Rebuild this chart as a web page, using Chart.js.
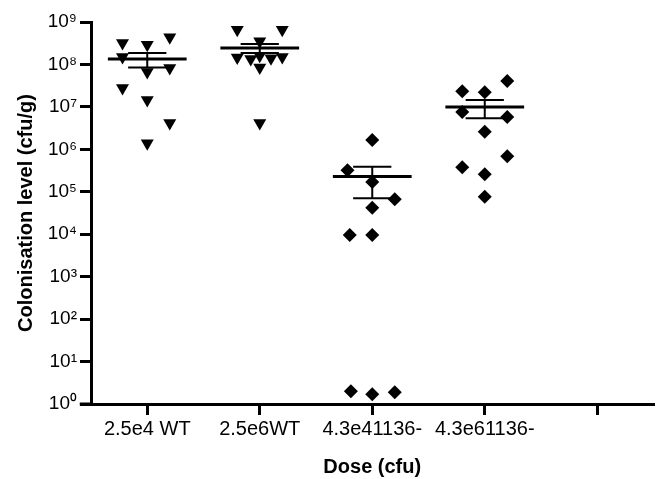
<!DOCTYPE html>
<html>
<head>
<meta charset="utf-8">
<script src="https://cdn.jsdelivr.net/npm/chart.js@4.4.0/dist/chart.umd.min.js"></script>
<style>
  html, body { margin: 0; padding: 0; background: #fff; }
  #wrap { width: 661px; height: 479px; }
</style>
</head>
<body>
<div id="wrap"><canvas id="chart" width="661" height="479"></canvas></div>
<script>
// Dose groups along the x axis (the fifth tick is left empty)
const doseLabels = ['2.5e4 WT', '2.5e6WT', '4.3e41136-', '4.3e61136-', ''];

// Log y axis ticks
const yTickValues = [1, 1e1, 1e2, 1e3, 1e4, 1e5, 1e6, 1e7, 1e8, 1e9];
const yTickLabels = ['10⁰', '10¹', '10²', '10³', '10⁴', '10⁵', '10⁶', '10⁷', '10⁸', '10⁹'];

// Colonisation per animal (cfu/g) and the sideways scatter offset of each point
const wt4Values = [3.2e8, 2.9e8, 4.4e8, 1.5e8, 6.6e7, 8.3e7, 2.8e7, 1.45e7, 4.2e6, 1.4e6];
const wt4Jitter = [-0.22, 0, 0.2, -0.22, 0, 0.2, -0.22, 0, 0.2, 0];

const wt6Values = [6.6e8, 6.6e8, 3.5e8, 1.6e8, 1.45e8, 1.35e8, 1.4e8, 1.5e8, 8.5e7, 4.2e6];
const wt6Jitter = [-0.2, 0.2, 0, 0, -0.2, -0.08, 0.1, 0.2, 0, 0];

const mut4Values = [1.66e6, 3.2e5, 1.7e5, 6.7e4, 4.2e4, 9.6e3, 9.6e3, 2.0, 1.7, 1.9];
const mut4Jitter = [0, -0.22, 0, 0.2, 0, -0.2, 0, -0.19, 0, 0.2];

const mut6Values = [4.1e7, 2.35e7, 2.2e7, 7.6e6, 5.8e6, 2.6e6, 6.9e5, 3.8e5, 2.6e5, 7.6e4];
const mut6Jitter = [0.2, -0.2, 0, -0.2, 0.2, 0, 0.2, -0.2, 0, 0];

// Mean and SEM of each group
const groupMeans = [1.35e8, 2.45e8, 2.3e5, 1.0e7];
const groupSem = [0.5e8, 0.6e8, 1.6e5, 4.6e6];

const FONT = 'Liberation Sans, Arial, Helvetica, sans-serif';

const toPoints = (values, jitter, group) =>
  values.map((v, i) => ({ x: group + jitter[i], y: v }));

const markerSet = (data, style) => ({
  data,
  pointStyle: style,
  pointRotation: style === 'triangle' ? 180 : 0,
  pointRadius: style === 'triangle' ? 7.5 : 7,
  pointHoverRadius: 7,
  backgroundColor: '#000',
  borderColor: '#000',
  borderWidth: 0,
  showLine: false,
});

const lineSet = (data, width) => ({
  data,
  showLine: true,
  spanGaps: false,
  pointRadius: 0,
  pointHoverRadius: 0,
  borderColor: '#000',
  borderWidth: width,
});

// mean bars and SEM whiskers, split by null gaps
const meanData = [];
const semData = [];
groupMeans.forEach((m, i) => {
  const g = i + 1;
  const s = groupSem[i];
  meanData.push({ x: g - 0.35, y: m }, { x: g + 0.35, y: m }, { x: g, y: null });
  semData.push({ x: g, y: m - s }, { x: g, y: m + s }, { x: g, y: null });
  semData.push({ x: g - 0.17, y: m + s }, { x: g + 0.17, y: m + s }, { x: g, y: null });
  semData.push({ x: g - 0.17, y: m - s }, { x: g + 0.17, y: m - s }, { x: g, y: null });
});

// x axis runs a little past the y axis on the left
const axisStub = {
  id: 'axisStub',
  afterDraw(chart) {
    const { ctx, scales: { x }, chartArea } = chart;
    ctx.save();
    ctx.strokeStyle = '#000';
    ctx.lineWidth = 3;
    ctx.beginPath();
    ctx.moveTo(x.getPixelForValue(0.4), chartArea.bottom);
    ctx.lineTo(x.getPixelForValue(0.5) + 1, chartArea.bottom);
    ctx.stroke();
    ctx.restore();
  },
};

new Chart(document.getElementById('chart'), {
  type: 'scatter',
  data: {
    datasets: [
      lineSet(meanData, 3),
      lineSet(semData, 2),
      markerSet(toPoints(wt4Values, wt4Jitter, 1), 'triangle'),
      markerSet(toPoints(wt6Values, wt6Jitter, 2), 'triangle'),
      markerSet(toPoints(mut4Values, mut4Jitter, 3), 'rectRot'),
      markerSet(toPoints(mut6Values, mut6Jitter, 4), 'rectRot'),
    ],
  },
  options: {
    responsive: false,
    animation: false,
    events: [],
    layout: { padding: { top: 22, right: 7, left: 0, bottom: 0 } },
    plugins: {
      legend: { display: false },
      tooltip: { enabled: false },
    },
    scales: {
      x: {
        type: 'linear',
        min: 0.5,
        max: 5.5,
        afterBuildTicks: (scale) => {
          scale.ticks = doseLabels.map((_, i) => ({ value: i + 1 }));
        },
        afterFit: (scale) => {
          scale.height = 75;
          scale.paddingLeft = 0;
          scale.paddingRight = 0;
        },
        ticks: {
          autoSkip: false,
          maxRotation: 0,
          minRotation: 0,
          padding: 2,
          color: '#000',
          font: { family: FONT, size: 20 },
          callback: (value) => doseLabels[Math.round(value) - 1] ?? '',
        },
        grid: {
          drawOnChartArea: false,
          drawTicks: true,
          tickLength: 11,
          lineWidth: 3,
          color: '#000',
        },
        border: { display: true, width: 3, color: '#000' },
        title: {
          display: true,
          text: 'Dose (cfu)',
          color: '#000',
          font: { family: FONT, size: 20, weight: 'bold' },
          padding: { top: 0, bottom: 0 },
        },
      },
      y: {
        type: 'logarithmic',
        min: 1,
        max: 1e9,
        afterBuildTicks: (scale) => {
          scale.ticks = yTickValues.map((v) => ({ value: v }));
        },
        afterFit: (scale) => {
          scale.width = 91;
          scale.paddingTop = 0;
          scale.paddingBottom = 0;
        },
        ticks: {
          padding: 3,
          color: '#000',
          font: { family: FONT, size: 19 },
          callback: (value) => yTickLabels[yTickValues.indexOf(value)] ?? '',
        },
        grid: {
          drawOnChartArea: false,
          drawTicks: true,
          tickLength: 11,
          lineWidth: 3,
          color: '#000',
        },
        border: { display: true, width: 3, color: '#000' },
        title: {
          display: true,
          text: 'Colonisation level (cfu/g)',
          color: '#000',
          font: { family: FONT, size: 20, weight: 'bold' },
          padding: { top: 14, bottom: 0 },
        },
      },
    },
  },
  plugins: [axisStub],
});
</script>
</body>
</html>
